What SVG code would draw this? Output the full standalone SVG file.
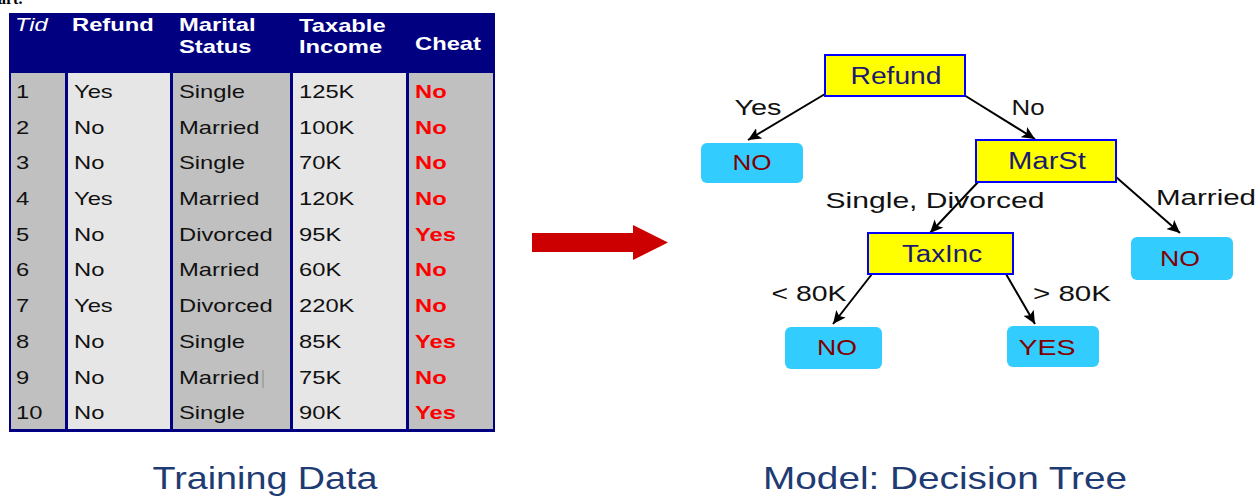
<svg xmlns="http://www.w3.org/2000/svg" width="1260" height="496" viewBox="0 0 1260 496">
<style>
.hd{font-family:"Liberation Sans",Arial,sans-serif;font-size:19px;font-weight:bold;fill:#ffffff}
.hi{font-family:"Liberation Sans",Arial,sans-serif;font-size:19px;font-style:italic;fill:#ffffff}
.td{font-family:"Liberation Sans",Arial,sans-serif;font-size:19px;fill:#111111}
.tr{font-family:"Liberation Sans",Arial,sans-serif;font-size:19px;font-weight:bold;fill:#ff0000}
.dk{fill:#c0c0c0}
.lt{fill:#e6e6e6}
.nd{fill:#ffff00;stroke:#0000ff;stroke-width:2}
.lf{fill:#33ccff}
.nt{font-family:"Liberation Sans",Arial,sans-serif;font-size:23px;fill:#1a1a70;text-anchor:middle}
.lt2{font-family:"Liberation Sans",Arial,sans-serif;font-size:22px;fill:#800000;text-anchor:middle}
.lb{font-family:"Liberation Sans",Arial,sans-serif;font-size:22px;fill:#111111;text-anchor:middle}
.ti{font-family:"Liberation Sans",Arial,sans-serif;font-size:32px;fill:#1f3b73;text-anchor:middle}
.cn{stroke:#000000;stroke-width:2;fill:none;marker-end:url(#ah)}
</style>
<defs>
<marker id="ah" markerUnits="userSpaceOnUse" markerWidth="14" markerHeight="12" refX="13" refY="6" orient="auto">
<path d="M0,0 L13,6 L0,12 L3,6 Z" fill="#000000"/>
</marker>
</defs>
<rect width="1260" height="496" fill="#ffffff"/>
<text x="-2" y="4" font-family="Liberation Serif,serif" font-size="16" font-weight="bold" fill="#000000">art.</text>

<g id="table">
<rect x="9" y="13" width="486" height="419" fill="#000080"/>
<rect class="dk" x="11" y="73" width="54" height="356"/>
<rect class="lt" x="68" y="73" width="102" height="356"/>
<rect class="dk" x="173" y="73" width="117" height="356"/>
<rect class="lt" x="293" y="73" width="113" height="356"/>
<rect class="dk" x="409" y="73" width="84" height="356"/>
<line x1="263" y1="370" x2="263" y2="388" stroke="#888888" stroke-width="1"/>
<g transform="scale(1.25 1)">
<text class="hi" x="12" y="31">Tid</text>
<text class="hd" x="57.6" y="31">Refund</text>
<text class="hd" x="143.2" y="31">Marital</text>
<text class="hd" x="143.2" y="53">Status</text>
<text class="hd" x="239.2" y="32">Taxable</text>
<text class="hd" x="239.2" y="53">Income</text>
<text class="hd" x="332" y="50">Cheat</text>

<text class="td" x="12.8" y="98">1</text><text class="td" x="59.2" y="98">Yes</text><text class="td" x="143.2" y="98">Single</text><text class="td" x="239.2" y="98">125K</text><text class="tr" x="332" y="98">No</text>
<text class="td" x="12.8" y="133.7">2</text><text class="td" x="59.2" y="133.7">No</text><text class="td" x="143.2" y="133.7">Married</text><text class="td" x="239.2" y="133.7">100K</text><text class="tr" x="332" y="133.7">No</text>
<text class="td" x="12.8" y="169.4">3</text><text class="td" x="59.2" y="169.4">No</text><text class="td" x="143.2" y="169.4">Single</text><text class="td" x="239.2" y="169.4">70K</text><text class="tr" x="332" y="169.4">No</text>
<text class="td" x="12.8" y="205.1">4</text><text class="td" x="59.2" y="205.1">Yes</text><text class="td" x="143.2" y="205.1">Married</text><text class="td" x="239.2" y="205.1">120K</text><text class="tr" x="332" y="205.1">No</text>
<text class="td" x="12.8" y="240.8">5</text><text class="td" x="59.2" y="240.8">No</text><text class="td" x="143.2" y="240.8">Divorced</text><text class="td" x="239.2" y="240.8">95K</text><text class="tr" x="332" y="240.8">Yes</text>
<text class="td" x="12.8" y="276.5">6</text><text class="td" x="59.2" y="276.5">No</text><text class="td" x="143.2" y="276.5">Married</text><text class="td" x="239.2" y="276.5">60K</text><text class="tr" x="332" y="276.5">No</text>
<text class="td" x="12.8" y="312.2">7</text><text class="td" x="59.2" y="312.2">Yes</text><text class="td" x="143.2" y="312.2">Divorced</text><text class="td" x="239.2" y="312.2">220K</text><text class="tr" x="332" y="312.2">No</text>
<text class="td" x="12.8" y="347.9">8</text><text class="td" x="59.2" y="347.9">No</text><text class="td" x="143.2" y="347.9">Single</text><text class="td" x="239.2" y="347.9">85K</text><text class="tr" x="332" y="347.9">Yes</text>
<text class="td" x="12.8" y="383.6">9</text><text class="td" x="59.2" y="383.6">No</text><text class="td" x="143.2" y="383.6">Married</text><text class="td" x="239.2" y="383.6">75K</text><text class="tr" x="332" y="383.6">No</text>
<text class="td" x="12.8" y="419.3">10</text><text class="td" x="59.2" y="419.3">No</text><text class="td" x="143.2" y="419.3">Single</text><text class="td" x="239.2" y="419.3">90K</text><text class="tr" x="332" y="419.3">Yes</text>
</g>
</g>

<g id="big-arrow">
<polygon points="532,233 633,233 633,225 668,242.5 633,260 633,252 532,252" fill="#cc0000"/>
</g>

<g id="connectors">
<line class="cn" x1="825" y1="94" x2="748" y2="140"/>
<line class="cn" x1="964" y1="95" x2="1035" y2="139"/>
<line class="cn" x1="979" y1="181" x2="930" y2="233"/>
<line class="cn" x1="1116" y1="177" x2="1180" y2="233"/>
<line class="cn" x1="872" y1="274" x2="833" y2="324"/>
<line class="cn" x1="1006" y1="274" x2="1035" y2="324"/>
<text class="lb" x="758" y="115" textLength="47" lengthAdjust="spacingAndGlyphs">Yes</text>
<text class="lb" x="1028" y="115" textLength="33" lengthAdjust="spacingAndGlyphs">No</text>
<text class="lb" x="935" y="208" textLength="219" lengthAdjust="spacingAndGlyphs">Single, Divorced</text>
<text class="lb" x="1206" y="205" textLength="100" lengthAdjust="spacingAndGlyphs">Married</text>
<text class="lb" x="809" y="301" textLength="75" lengthAdjust="spacingAndGlyphs">&lt; 80K</text>
<text class="lb" x="1072" y="301" textLength="78" lengthAdjust="spacingAndGlyphs">&gt; 80K</text>
</g>

<g id="node-refund">
<rect class="nd" x="825" y="55" width="140" height="41"/>
<text class="nt" x="896" y="84" textLength="91" lengthAdjust="spacingAndGlyphs">Refund</text>
</g>
<g id="node-marst">
<rect class="nd" x="976" y="140" width="140" height="42"/>
<text class="nt" x="1047" y="169" textLength="78" lengthAdjust="spacingAndGlyphs">MarSt</text>
</g>
<g id="node-taxinc">
<rect class="nd" x="868" y="233" width="145" height="41"/>
<text class="nt" x="942" y="262" textLength="80" lengthAdjust="spacingAndGlyphs">TaxInc</text>
</g>
<g id="leaf-no1">
<rect class="lf" x="701" y="143" width="102" height="40" rx="6"/>
<text class="lt2" x="752" y="170" textLength="39" lengthAdjust="spacingAndGlyphs">NO</text>
</g>
<g id="leaf-no2">
<rect class="lf" x="1131" y="237" width="102" height="43" rx="6"/>
<text class="lt2" x="1180" y="266" textLength="40" lengthAdjust="spacingAndGlyphs">NO</text>
</g>
<g id="leaf-no3">
<rect class="lf" x="785" y="327" width="97" height="42" rx="6"/>
<text class="lt2" x="837" y="355" textLength="40" lengthAdjust="spacingAndGlyphs">NO</text>
</g>
<g id="leaf-yes">
<rect class="lf" x="1007" y="326" width="92" height="41" rx="6"/>
<text class="lt2" x="1047" y="355" textLength="57" lengthAdjust="spacingAndGlyphs">YES</text>
</g>

<g id="titles">
<text class="ti" x="265" y="489" textLength="225" lengthAdjust="spacingAndGlyphs">Training Data</text>
<text class="ti" x="945" y="489" textLength="364" lengthAdjust="spacingAndGlyphs">Model:  Decision Tree</text>
</g>
</svg>
